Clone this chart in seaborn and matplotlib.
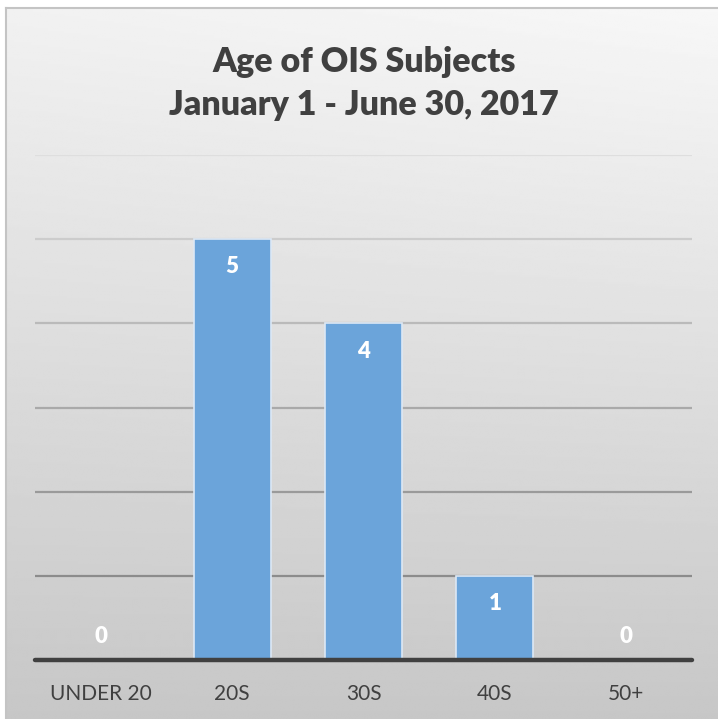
import numpy as np
import seaborn as sns
import matplotlib.pyplot as plt

# data
age_groups = ["UNDER 20", "20S", "30S", "40S", "50+"]
subjects = [0, 5, 4, 1, 0]
grid_values = [1, 2, 3, 4, 5, 6]

sns.set_style("white")
plt.rcParams['font.family'] = ['Lato', 'DejaVu Sans']

fig = plt.figure(figsize=(7.18, 7.19), dpi=100)
fig.patch.set_facecolor("white")

# grey gradient panel behind the chart, border only at left / top
bg = fig.add_axes([6 / 718, 0, 712 / 718, 711 / 719])
yy, xx = np.mgrid[0:1:300j, 0:1:300j]
shade = 0.945 - 0.165 * yy + 0.025 * xx * (1 - yy)
bg.imshow(shade, cmap="gray", vmin=0, vmax=1, aspect="auto", interpolation="bilinear")
bg.set_xticks([])
bg.set_yticks([])
for side in ["right", "bottom"]:
    bg.spines[side].set_visible(False)
for side in ["left", "top"]:
    bg.spines[side].set_color("#c4c4c4")
    bg.spines[side].set_linewidth(1.5)

# main chart
ax = fig.add_axes([35 / 718, 1 - 660 / 719, 657 / 718, 505 / 719])
ax.patch.set_alpha(0)

for v in grid_values:
    # gridlines get lighter towards the top like in the original
    g = 0.55 + 0.0325 * (v - 1) + 0.02 * (v - 1) ** 1.3
    ax.axhline(v, color=str(min(g, 0.87)), lw=1.6, zorder=0)

sns.barplot(x=age_groups, y=subjects, color="#6ba4da", width=0.585,
            edgecolor="#dce8f5", linewidth=1.2, saturation=1, ax=ax, zorder=2)

ax.axhline(0, color="#404040", lw=3.2, zorder=4, clip_on=False)

for i, v in enumerate(subjects):
    if v > 0:
        ax.annotate(str(v), (i, v), xytext=(0, -20), textcoords="offset points",
                    ha="center", va="center", fontsize=16, fontweight="heavy",
                    color="white", zorder=5)
    else:
        ax.annotate(str(v), (i, v), xytext=(0, 17), textcoords="offset points",
                    ha="center", va="center", fontsize=16, fontweight="heavy",
                    color="white", zorder=5)

ax.set_xlim(-0.5, len(age_groups) - 0.5)
ax.set_ylim(0, 6)
ax.set_yticks([])
ax.set_xlabel("")
ax.set_ylabel("")
ax.tick_params(axis="x", length=0, pad=17, labelsize=15, labelcolor="#404040")
sns.despine(ax=ax, left=True, bottom=True)

fig.text(364 / 718, 1 - 62 / 719, "Age of OIS Subjects", ha="center", va="center",
         fontsize=24.5, fontweight="heavy", color="#404040")
fig.text(364 / 718, 1 - 105 / 719, "January 1 - June 30, 2017", ha="center", va="center",
         fontsize=24.5, fontweight="heavy", color="#404040")

fig.savefig("out.png", dpi=100)
